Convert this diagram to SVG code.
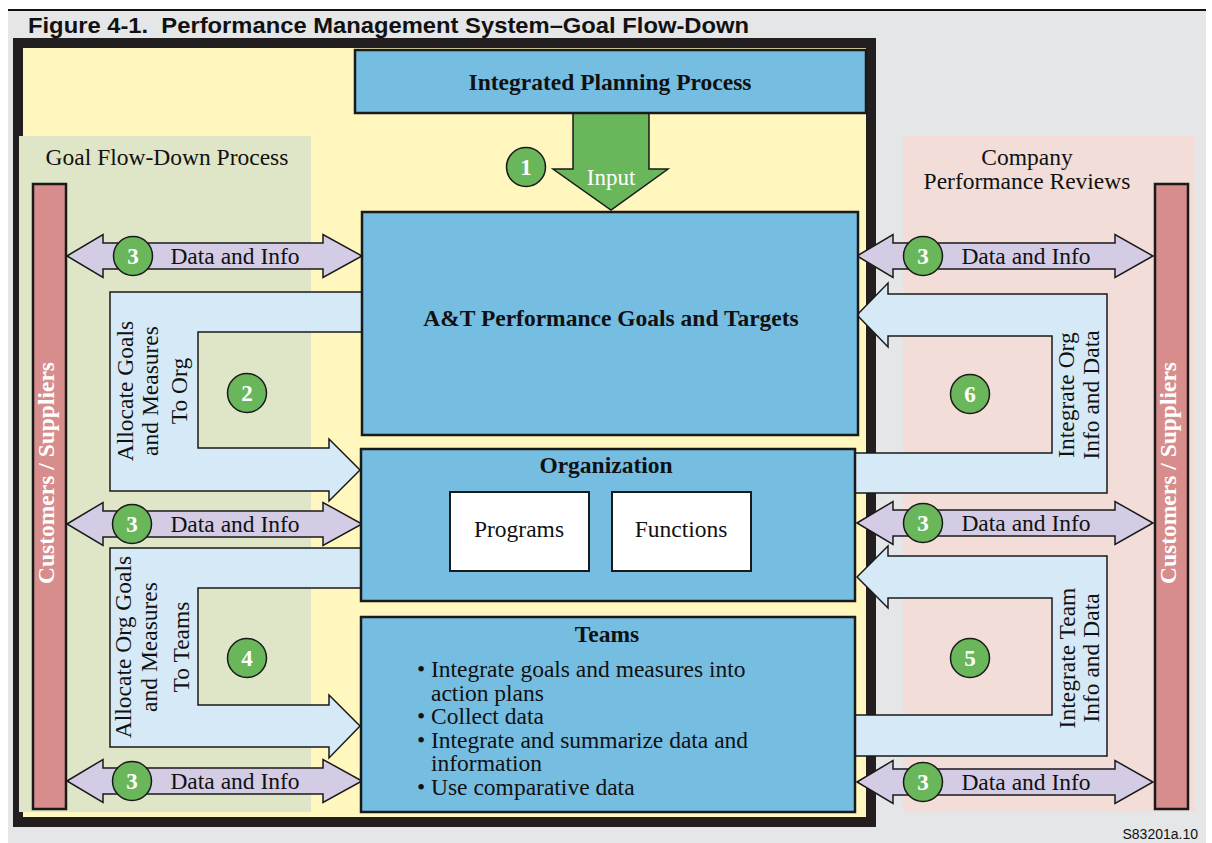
<svg xmlns="http://www.w3.org/2000/svg" width="1212" height="843" viewBox="0 0 1212 843">
  <style>
    .serif { font-family: "Liberation Serif", "Times New Roman", serif; fill: #111; }
    .lbl { font-size: 23.5px; }
    .ttl { font-size: 23.5px; font-weight: bold; }
    .mid { text-anchor: middle; }
    .box { fill: #76bde2; stroke: #1a1a1a; stroke-width: 2.5; }
    .sub { fill: #ffffff; stroke: #1a1a1a; stroke-width: 2; }
    .bar { fill: #d68d8c; stroke: #1a1a1a; stroke-width: 2.5; }
    .barText { font-family: "Liberation Serif", "Times New Roman", serif; font-size: 23.5px; font-weight: bold; fill: #ffffff; text-anchor: middle; }
    .dataArrow { fill: #d4cce4; stroke: #1a1a1a; stroke-width: 1.5; stroke-linejoin: miter; }
    .flowArrow { fill: #d5eaf6; stroke: #1a1a1a; stroke-width: 1.5; }
    .inputArrow { fill: #6ab75b; stroke: #1a1a1a; stroke-width: 1.5; }
    .step circle { fill: #6ab75b; stroke: #1a1a1a; stroke-width: 1.5; }
    .step text { font-family: "Liberation Serif", "Times New Roman", serif; font-size: 23px; font-weight: bold; fill: #ffffff; text-anchor: middle; }
  </style>
  <defs>
    <path id="dataLeft" d="M67,0 L103,-21.5 L103,-13 L323,-13 L323,-21.5 L362,0 L323,21.5 L323,13 L103,13 L103,21.5 Z"/>
    <path id="dataRight" d="M857,0 L893,-21.5 L893,-13 L1115,-13 L1115,-21.5 L1153,0 L1115,21.5 L1115,13 L893,13 L893,21.5 Z"/>
  </defs>

  <!-- page -->
  <rect x="0" y="0" width="1212" height="843" fill="#ffffff"/>
  <rect x="8" y="11" width="1198" height="832" fill="#e5e6e8"/>
  <line x1="8" y1="10" x2="1206" y2="10" stroke="#111" stroke-width="2"/>
  <text x="28" y="33" font-family="'Liberation Sans', Arial, sans-serif" font-size="21.5" font-weight="bold" fill="#111" textLength="721" lengthAdjust="spacingAndGlyphs">Figure 4-1.&#160; Performance Management System–Goal Flow-Down</text>

  <!-- framed area -->
  <rect x="13" y="38" width="863" height="789" fill="#231f20"/>
  <rect x="23" y="48" width="843" height="769" fill="#fff7be"/>

  <!-- side panels -->
  <g id="goal-flow-down">
    <rect x="19" y="136" width="292" height="676" fill="#dfe6c7"/>
    <text class="serif lbl mid" x="167" y="165">Goal Flow-Down Process</text>
  </g>
  <g id="company-reviews">
    <rect x="903" y="136" width="292" height="676" fill="#f2ddd8"/>
    <text class="serif lbl mid" x="1027" y="165">Company</text>
    <text class="serif lbl mid" x="1027" y="189">Performance Reviews</text>
  </g>

  <g id="customers-left">
    <rect class="bar" x="33" y="184" width="33" height="625"/>
    <text class="barText" transform="translate(54,473) rotate(-90)">Customers / Suppliers</text>
  </g>
  <g id="customers-right">
    <rect class="bar" x="1155" y="184" width="33" height="625"/>
    <text class="barText" transform="translate(1176,473) rotate(-90)">Customers / Suppliers</text>
  </g>

  <!-- connectors -->
  <g id="connectors">
    <path class="inputArrow" d="M573,113 V169 H553 L611,210 L668,169 H649 V113 Z"/>
    <text x="611" y="185" font-family="'Liberation Serif', 'Times New Roman', serif" font-size="23" fill="#ffffff" text-anchor="middle">Input</text>

    <use href="#dataLeft" class="dataArrow" transform="translate(0,256)"/>
    <use href="#dataLeft" class="dataArrow" transform="translate(0,524)"/>
    <use href="#dataLeft" class="dataArrow" transform="translate(0,781)"/>
    <use href="#dataRight" class="dataArrow" transform="translate(0,256)"/>
    <use href="#dataRight" class="dataArrow" transform="translate(0,523)"/>
    <use href="#dataRight" class="dataArrow" transform="translate(0,782)"/>
    <text class="serif lbl mid" x="235" y="264">Data and Info</text>
    <text class="serif lbl mid" x="235" y="532">Data and Info</text>
    <text class="serif lbl mid" x="235" y="789">Data and Info</text>
    <text class="serif lbl mid" x="1026" y="264">Data and Info</text>
    <text class="serif lbl mid" x="1026" y="531">Data and Info</text>
    <text class="serif lbl mid" x="1026" y="790">Data and Info</text>

    <!-- allocate goals to organization -->
    <path class="flowArrow" d="M362,292 H110 V491 H329 V501 L360,470 L329,439 V448 H198 V332 H362 Z"/>
    <text class="serif lbl mid" transform="translate(133,391) rotate(-90)">Allocate Goals</text>
    <text class="serif lbl mid" transform="translate(158,391) rotate(-90)">and Measures</text>
    <text class="serif lbl mid" transform="translate(187,391) rotate(-90)">To Org</text>

    <!-- allocate organization goals to teams -->
    <path class="flowArrow" d="M362,548 H110 V747 H329 V758 L360,726 L329,695 V705 H198 V588 H362 Z"/>
    <text class="serif lbl mid" transform="translate(131,647) rotate(-90)">Allocate Org Goals</text>
    <text class="serif lbl mid" transform="translate(157,647) rotate(-90)">and Measures</text>
    <text class="serif lbl mid" transform="translate(189,647) rotate(-90)">To Teams</text>

    <!-- integrate organization info -->
    <path class="flowArrow" d="M855,493 H1107 V294 H888 V283 L857,315 L888,347 V336 H1052 V453 H855 Z"/>
    <text class="serif lbl mid" transform="translate(1074,395) rotate(-90)">Integrate Org</text>
    <text class="serif lbl mid" transform="translate(1099,395) rotate(-90)">Info and Data</text>

    <!-- integrate team info -->
    <path class="flowArrow" d="M855,756 H1107 V556 H888 V546 L857,577 L888,608 V598 H1052 V715 H855 Z"/>
    <text class="serif lbl mid" transform="translate(1075,658) rotate(-90)">Integrate Team</text>
    <text class="serif lbl mid" transform="translate(1099,658) rotate(-90)">Info and Data</text>
  </g>

  <!-- nodes -->
  <g id="integrated-planning">
    <rect class="box" x="355" y="50" width="511" height="63"/>
    <text class="serif ttl mid" x="610" y="90">Integrated Planning Process</text>
  </g>

  <g id="goals-targets">
    <rect class="box" x="362" y="212" width="496" height="223"/>
    <text class="serif ttl mid" x="611" y="326">A&amp;T Performance Goals and Targets</text>
  </g>

  <g id="organization">
    <rect class="box" x="361" y="449" width="494" height="152"/>
    <text class="serif ttl mid" x="606" y="473">Organization</text>
    <rect class="sub" x="450" y="492" width="139" height="79"/>
    <text class="serif lbl mid" x="519" y="537">Programs</text>
    <rect class="sub" x="612" y="492" width="139" height="79"/>
    <text class="serif lbl mid" x="681" y="537">Functions</text>
  </g>

  <g id="teams">
    <rect class="box" x="361" y="617" width="494" height="195"/>
    <text class="serif ttl mid" x="607" y="642">Teams</text>
    <g class="serif lbl">
      <text x="417" y="677">•</text><text x="431" y="677">Integrate goals and measures into</text>
      <text x="431" y="700.6">action plans</text>
      <text x="417" y="724.2">•</text><text x="431" y="724.2">Collect data</text>
      <text x="417" y="747.8">•</text><text x="431" y="747.8">Integrate and summarize data and</text>
      <text x="431" y="771.4">information</text>
      <text x="417" y="795">•</text><text x="431" y="795">Use comparative data</text>
    </g>
  </g>

  <!-- numbered steps -->
  <g id="step-1" class="step"><circle cx="526" cy="167" r="19.5"/><text x="526" y="175">1</text></g>
  <g id="step-2" class="step"><circle cx="247" cy="393" r="19.5"/><text x="247" y="401">2</text></g>
  <g id="step-3a" class="step"><circle cx="133" cy="256" r="19.5"/><text x="133" y="264">3</text></g>
  <g id="step-3b" class="step"><circle cx="132" cy="524" r="19.5"/><text x="132" y="532">3</text></g>
  <g id="step-3c" class="step"><circle cx="132" cy="781" r="19.5"/><text x="132" y="789">3</text></g>
  <g id="step-3d" class="step"><circle cx="923" cy="256" r="19.5"/><text x="923" y="264">3</text></g>
  <g id="step-3e" class="step"><circle cx="923" cy="523" r="19.5"/><text x="923" y="531">3</text></g>
  <g id="step-3f" class="step"><circle cx="923" cy="782" r="19.5"/><text x="923" y="790">3</text></g>
  <g id="step-4" class="step"><circle cx="247" cy="658" r="19.5"/><text x="247" y="666">4</text></g>
  <g id="step-5" class="step"><circle cx="970" cy="658" r="19.5"/><text x="970" y="666">5</text></g>
  <g id="step-6" class="step"><circle cx="970" cy="394" r="19.5"/><text x="970" y="402">6</text></g>

  <text x="1198" y="839" font-family="'Liberation Sans', Arial, sans-serif" font-size="14" fill="#111" text-anchor="end">S83201a.10</text>
</svg>
